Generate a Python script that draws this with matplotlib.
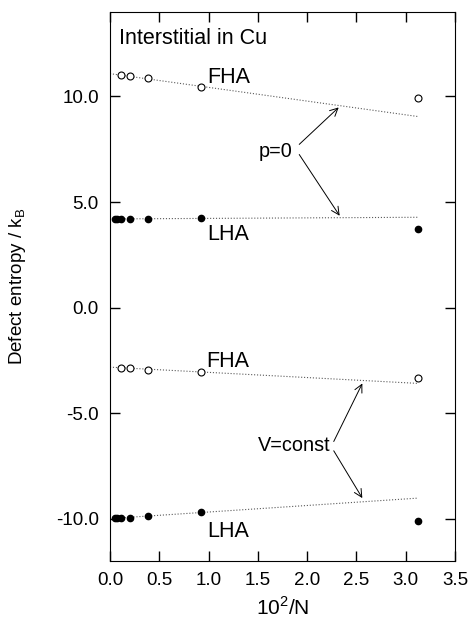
import matplotlib
matplotlib.use("Agg")
import matplotlib.pyplot as plt
import numpy as np

plt.rcParams['font.family'] = ['Liberation Sans', 'DejaVu Sans']
plt.rcParams['axes.unicode_minus'] = False

# 10^2/N values
x_fha = [0.116, 0.2, 0.39, 0.926, 3.125]
x_lha = [0.046, 0.074, 0.116, 0.2, 0.39, 0.926, 3.125]

# p=0
fha_p0 = [11.0, 10.98, 10.87, 10.47, 9.95]
lha_p0 = [4.2, 4.2, 4.2, 4.2, 4.21, 4.23, 3.7]
# V=const
fha_v = [-2.86, -2.87, -2.97, -3.05, -3.32]
lha_v = [-9.97, -9.97, -9.97, -9.94, -9.87, -9.70, -10.1]

# linear fits (intercept, slope)
fit_fha_p0 = (11.08, -0.65)
fit_lha_p0 = (4.2, 0.025)
fit_fha_v = (-2.82, -0.246)
fit_lha_v = (-9.99, 0.31)

fig = plt.figure(figsize=(4.71, 6.21), dpi=100)
ax = fig.add_axes([0.2335, 0.0966, 0.7325, 0.8841])

xfit = np.array([0.0, 3.125])
for b, m in [fit_fha_p0, fit_lha_p0, fit_fha_v, fit_lha_v]:
    ax.plot(xfit, b + m * xfit, ls=':', lw=0.8, color='0.35')

for y in [fha_p0, fha_v]:
    ax.plot(x_fha, y, 'o', mfc='white', mec='black', mew=0.8, ms=5)
for y in [lha_p0, lha_v]:
    ax.plot(x_lha, y, 'o', color='black', ms=4.5)

fs = 15.5
ax.text(0.09, 12.5, 'Interstitial in Cu', fontsize=fs)
ax.text(0.99, 10.66, 'FHA', fontsize=fs)
ax.text(0.99, 3.22, 'LHA', fontsize=fs)
ax.text(0.98, -2.83, 'FHA', fontsize=fs)
ax.text(0.99, -10.85, 'LHA', fontsize=fs)

fs2 = 14.3
ax.text(1.51, 7.12, 'p=0', fontsize=fs2)
ap = dict(arrowstyle='->', lw=0.7, color='black', shrinkA=0, shrinkB=0,
          mutation_scale=14)
ax.annotate('', xy=(2.32, 9.48), xytext=(1.92, 7.73), arrowprops=ap)
ax.annotate('', xy=(2.33, 4.35), xytext=(1.92, 7.25), arrowprops=ap)

ax.text(1.50, -6.81, 'V=const', fontsize=fs2)
ax.annotate('', xy=(2.56, -3.59), xytext=(2.27, -6.34), arrowprops=ap)
ax.annotate('', xy=(2.56, -9.02), xytext=(2.27, -6.78), arrowprops=ap)

ax.set_xlim(0, 3.5)
ax.set_ylim(-12, 14)
ax.set_xticks(np.arange(0, 3.51, 0.5))
ax.set_yticks([-10, -5, 0, 5, 10])
ax.xaxis.set_major_formatter(matplotlib.ticker.FormatStrFormatter('%.1f'))
ax.yaxis.set_major_formatter(matplotlib.ticker.FormatStrFormatter('%.1f'))
ax.tick_params(direction='in', top=True, right=True, length=7, width=1,
               labelsize=13.5, pad=8)
ax.set_xlabel('10$^\\mathregular{2}$/N', fontsize=15, labelpad=5)
ax.set_ylabel('Defect entropy / k$_\\mathregular{B}$', fontsize=13.5, labelpad=20)

fig.savefig('out.png', dpi=100)
